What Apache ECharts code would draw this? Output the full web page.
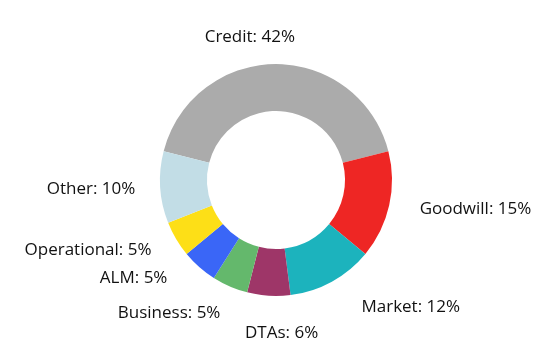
<!DOCTYPE html>
<html>
<head>
<meta charset="utf-8">
<script src="https://cdn.jsdelivr.net/npm/echarts@6/dist/echarts.min.js"></script>
<style>
html,body{margin:0;padding:0;background:#fff;}
#chart{width:552px;height:360px;}
</style>
</head>
<body>
<div id="chart"></div>
<script>
const categories = ['Credit', 'Goodwill', 'Market', 'DTAs', 'Business', 'ALM', 'Operational', 'Other'];
const values = [42, 15, 12, 6, 5, 5, 5, 10];
const colors = ['#ababab', '#ee2624', '#1cb3bd', '#9e3668', '#64b86c', '#3a66f7', '#fddf17', '#c2dde6'];

// label fine placement (shift in px from the library's default outside position)
const labelShift = {
  Credit: [31, -3], Goodwill: [-5, -1], Market: [6, 4], DTAs: [63, 13],
  Business: [12, 5], ALM: [-4, -7], Operational: [8, -1], Other: [11, 0]
};

const chart = echarts.init(document.getElementById('chart'), null, {renderer: 'canvas'});
const total = values.reduce((a, b) => a + b, 0);

chart.setOption({
  animation: false,
  backgroundColor: '#ffffff',
  color: colors,
  series: [{
    type: 'pie',
    center: ['50%', '50%'],
    radius: [69, 116],
    startAngle: 90 + values[0] / total * 180,
    clockwise: true,
    avoidLabelOverlap: false,
    label: {
      show: true,
      position: 'outside',
      formatter: p => p.name + ': ' + p.value + '%',
      fontFamily: 'Open Sans',
      fontSize: 17,
      color: '#111111',
      distanceToLabelLine: 12
    },
    labelLine: { show: false, length: 24, length2: 0 },
    labelLayout: function (p) {
      const s = labelShift[categories[p.dataIndex]] || [0, 0];
      return {
        hideOverlap: false,
        x: p.labelRect.x + s[0],
        y: p.labelRect.y + s[1],
        align: 'left',
        verticalAlign: 'top'
      };
    },
    emphasis: { disabled: true },
    data: categories.map((c, i) => ({ name: c, value: values[i] }))
  }]
});
</script>
</body>
</html>
